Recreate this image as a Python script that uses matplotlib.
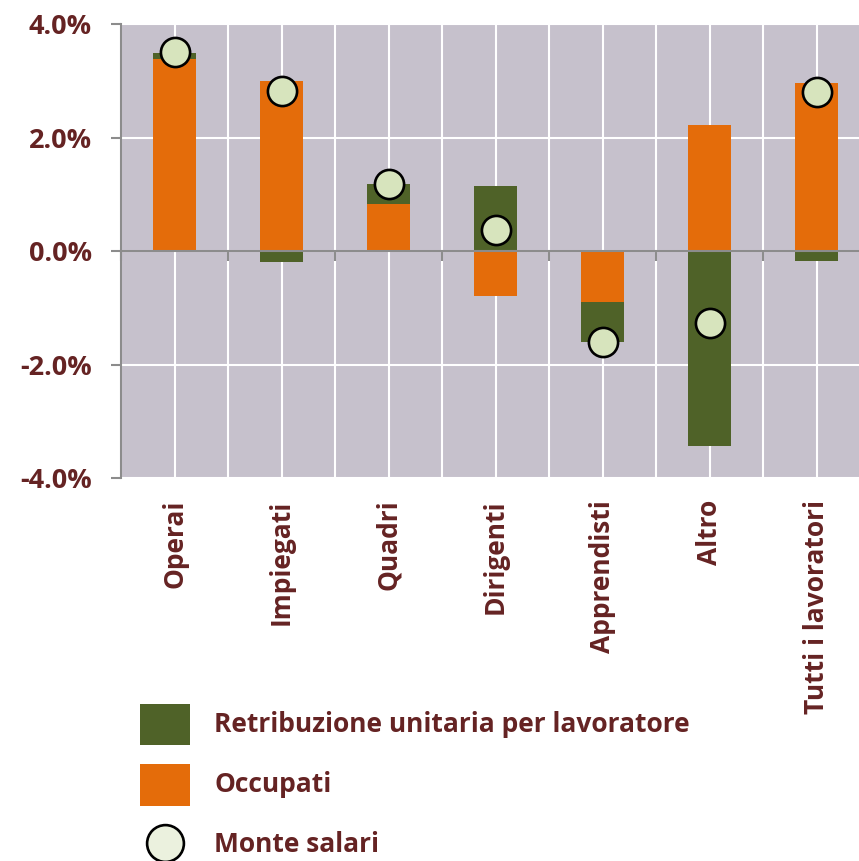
import matplotlib
matplotlib.use("Agg")
import matplotlib.pyplot as plt
import numpy as np
from matplotlib.patches import Rectangle
from matplotlib.lines import Line2D
from matplotlib.transforms import blended_transform_factory

categories = ["Operai", "Impiegati", "Quadri", "Dirigenti", "Apprendisti", "Altro", "Tutti i lavoratori"]
occupati = [3.39, 3.00, 0.84, -0.79, -0.90, 2.23, 2.97]
retribuzione = [0.11, -0.19, 0.34, 1.15, -0.71, -3.43, -0.17]
monte_salari = [3.51, 2.82, 1.18, 0.37, -1.61, -1.27, 2.81]
yticks = [-4.0, -2.0, 0.0, 2.0, 4.0]
legend_labels = ["Retribuzione unitaria per lavoratore", "Occupati", "Monte salari"]

TXT = "#652323"
GREEN = "#4F6228"
ORANGE = "#E46C0A"
BG = "#C6C1CC"
CIRC = "#D7E4BD"
CIRC_LEG = "#EBF1DE"
GRAY = "#8C8C8C"
FONT = "Open Sans"
W, H = 859, 861

fig = plt.figure(figsize=(W / 100, H / 100), dpi=100)
ax = fig.add_axes([121 / W, (H - 478) / H, 749 / W, 453.7 / H])
ax.set_facecolor(BG)

x = np.arange(len(categories))
occ = np.array(occupati)
ret = np.array(retribuzione)
bottom_ret = np.where(np.sign(ret) == np.sign(occ), occ, 0.0)

ax.bar(x, occ, width=0.40, color=ORANGE, zorder=3)
ax.bar(x, ret, width=0.40, bottom=bottom_ret, color=GREEN, zorder=3)
ax.plot(x, monte_salari, linestyle="none", marker="o", markersize=21,
        markerfacecolor=CIRC, markeredgecolor="black", markeredgewidth=1.9, zorder=5)

ax.set_xlim(-0.5, len(categories) - 0.5)
ax.set_ylim(-4.0, 4.0)

ax.set_yticks(yticks)
ax.set_yticklabels([f"{v:.1f}%" for v in yticks])
ax.set_xticks(np.arange(len(categories) + 1) - 0.5)
ax.set_xticklabels([])
ax.set_xticks(x, minor=True)
ax.tick_params(axis="x", which="minor", length=0)
ax.grid(True, which="both", color="white", linewidth=1.5, zorder=1)
ax.set_axisbelow(True)

for s in ["top", "right"]:
    ax.spines[s].set_visible(False)
ax.spines["bottom"].set_position(("data", 0))
ax.spines["bottom"].set_color(GRAY)
ax.spines["bottom"].set_linewidth(1.5)
ax.spines["bottom"].set_zorder(4)
ax.spines["left"].set_color(GRAY)
ax.spines["left"].set_linewidth(1.5)
ax.tick_params(axis="x", which="major", direction="out", length=7, width=1.5, color=GRAY)
ax.tick_params(axis="y", which="major", direction="out", length=7, width=1.5, color=GRAY,
               labelsize=19.5, labelcolor=TXT, pad=14)
for lab in ax.get_yticklabels():
    lab.set_fontfamily(FONT)
    lab.set_fontweight("bold")

trans = blended_transform_factory(ax.transData, ax.transAxes)
for xi, c in zip(x, categories):
    ax.text(xi, -0.048, c, transform=trans, rotation=90, ha="center", va="top",
            fontsize=19, fontweight="bold", color=TXT, family=FONT)

# legend (drawn in figure pixel positions)
def fx(px):
    return px / W

def fy(py):
    return 1 - py / H

leg_colors = [GREEN, ORANGE]
for i, col in enumerate(leg_colors):
    top = 703.5 + 60.5 * i
    fig.add_artist(Rectangle((fx(139.5), fy(top + 41.5)), 50.5 / W, 41.5 / H,
                             transform=fig.transFigure, facecolor=col, edgecolor="none"))
fig.add_artist(Line2D([fx(164.5)], [fy(843)], transform=fig.transFigure, linestyle="none",
                      marker="o", markersize=26.5, markerfacecolor=CIRC_LEG,
                      markeredgecolor="black", markeredgewidth=1.9))
for i, lab in enumerate(legend_labels):
    fig.text(fx(214.5), fy(731.5 + 60.5 * i), lab, ha="left", va="baseline",
             fontsize=19, fontweight="bold", color=TXT, family=FONT)

fig.savefig("out.png", dpi=100)
